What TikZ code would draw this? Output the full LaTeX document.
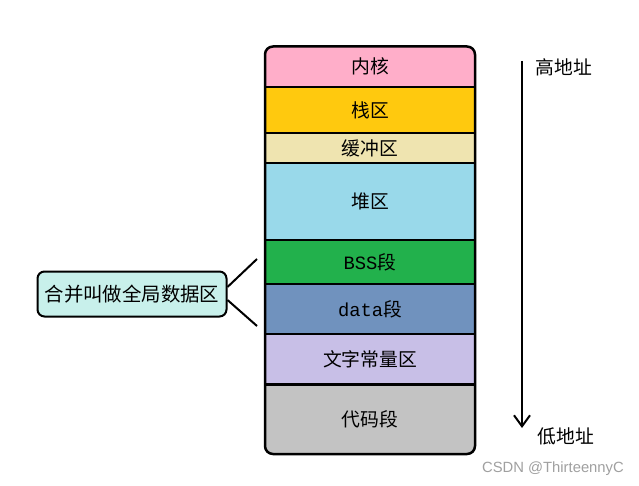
\documentclass[tikz,border=0pt]{standalone}
\usepackage{fontspec}
\setmainfont{Noto Sans CJK SC}
\newfontfamily\lat{Liberation Mono}
\newfontfamily\wm{Liberation Sans}
\usetikzlibrary{arrows.meta}
\definecolor{ckern}{RGB}{255,174,201}
\definecolor{cstack}{RGB}{255,201,14}
\definecolor{cbuf}{RGB}{239,228,176}
\definecolor{cheap}{RGB}{153,217,234}
\definecolor{cbss}{RGB}{34,177,76}
\definecolor{cdata}{RGB}{112,146,190}
\definecolor{cconst}{RGB}{200,191,231}
\definecolor{ccode}{RGB}{195,195,195}
\definecolor{cleft}{RGB}{200,240,235}
\definecolor{cwm}{RGB}{160,160,160}
\tikzset{
  band/.style={anchor=north, minimum width=210pt, inner sep=0pt, outer sep=0pt, font=\fontsize{18.8}{22}\selectfont},
  sepline/.style={line width=2.5pt},
  outline/.style={line width=2.5pt, rounded corners=8pt},
  labeltext/.style={font=\fontsize{18.8}{22}\selectfont, inner sep=0pt},
  groupbox/.style={draw, line width=2pt, rounded corners=7pt, fill=cleft, minimum width=189pt, minimum height=45pt, inner sep=0pt, font=\fontsize{19.4}{22}\selectfont},
  conn/.style={line width=2pt},
  dirarrow/.style={line width=2.5pt, -{Straight Barb[length=11pt,width=16pt,line width=2pt]}},
  watermark/.style={font=\wm\fontsize{14.8}{17}\selectfont, text=cwm, inner sep=0pt}
}
\begin{document}
\begin{tikzpicture}[x=1pt,y=-1pt]
\useasboundingbox[fill=white] (0,0) rectangle (639,486);
\begin{scope}
  \clip[rounded corners=8pt] (265,46.5) rectangle (475,454);
  \node[band, fill=ckern, minimum height=40.5pt] (kern) at (370,46.5) {内核};
  \node[band, fill=cstack, minimum height=46pt] (stack) at (370,87) {栈区};
  \node[band, fill=cbuf, minimum height=30pt] (buf) at (370,133) {缓冲区};
  \node[band, fill=cheap, minimum height=77pt] (heap) at (370,163) {堆区};
  \node[band, fill=cbss, minimum height=44pt] (bss) at (370,240) {{\lat BSS}段};
  \node[band, fill=cdata, minimum height=50pt] (data) at (370,284) {{\lat data}段};
  \node[band, fill=cconst, minimum height=50.5pt] (const) at (370,334) {文字常量区};
  \node[band, fill=ccode, minimum height=69.5pt] (code) at (370,384.5) {代码段};
\end{scope}
\foreach \b in {kern,stack,buf,heap,bss,data,const}{
  \draw[sepline] (\b.south west) -- (\b.south east);
}
\draw[outline] (kern.north west) rectangle (code.south east);

\node[groupbox] (grp) at (132,294) {合并叫做全局数据区};
\coordinate (g1) at (257,259);
\coordinate (g2) at (257,326);
\draw[conn] ([yshift=7pt]grp.east) -- (g1);
\draw[conn] ([yshift=-6pt]grp.east) -- (g2);

\coordinate (atop) at (522,61);
\coordinate (abot) at (522,428);
\draw[dirarrow] (atop) -- (abot);
\node[labeltext] (high) at (564,67) {高地址};
\node[labeltext] (low) at (566,436) {低地址};

\node[watermark, anchor=east] (wmk) at (624,468.5) {CSDN @ThirteennyC};
\end{tikzpicture}
\end{document}
